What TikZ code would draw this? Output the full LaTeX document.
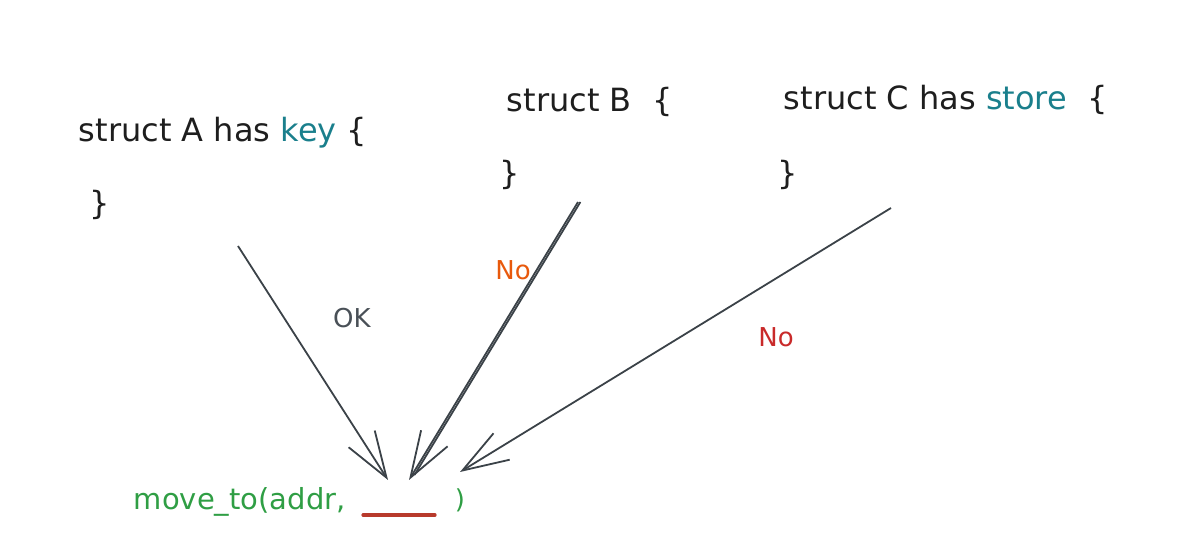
\documentclass[tikz,border=0pt]{standalone}
\usepackage{fontspec}
\setmainfont{DejaVu Sans}
\usepackage{tikz}
\usetikzlibrary{arrows.meta,calc}

\definecolor{inkblack}{HTML}{1E1E1E}
\definecolor{inkteal}{HTML}{1A7F8C}
\definecolor{inkgrey}{HTML}{495057}
\definecolor{inkorange}{HTML}{E8590C}
\definecolor{inkred}{HTML}{C92A2A}
\definecolor{inkgreen}{HTML}{2F9E44}
\definecolor{inkline}{HTML}{3B4248}
\definecolor{inkblank}{HTML}{B83A2C}

\tikzset{
  code/.style={inner sep=0.75pt, font=\fontsize{16}{19}\selectfont, text=inkblack},
  label/.style={inner sep=0.75pt, font=\fontsize{13}{16}\selectfont},
  link/.style={draw=inkline, line width=0.9pt},
  sketcharrow/.style={link, -{Straight Barb[length=23pt,width=15.5pt,line width=0.9pt]}}
}

\begin{document}
\begin{tikzpicture}[x=0.5pt,y=0.5pt,yscale=-1,xscale=1]
        \path[use as bounding box] (0,0) rectangle (1200,560);
        % Text Node
        \node (structa) [code, anchor=base west] at (77,142) {struct A has \textcolor{inkteal}{key} \{};
        \node (closea) [code] at (100,205) {\}};
        \node (structb) [code, anchor=base west] at (505,112) {struct B\ \ \{};
        \node (closeb) [code] at (510,175) {\}};
        \node (structc) [code, anchor=base west] at (782,110) {struct C has \textcolor{inkteal}{store}\ \ \{};
        \node (closec) [code] at (788,175) {\}};
        % Text Node
        \node (call) [label, font=\fontsize{14.5}{17}\selectfont, text=inkgreen, anchor=base west] at (132,510) {move\_to(addr,};
        \node (paren) [label, text=inkgreen] at (460,500) {)};
        \coordinate (blankl) at (363,515);
        \coordinate (blankr) at (435,515);
        \draw [inkblank, line width=1.6pt, line cap=round] (blankl) -- (blankr);
        % Straight Lines
        \coordinate (atail) at (238,246);
        \coordinate (ahead) at (388,480);
        \draw [sketcharrow] (atail) -- (ahead);
        \coordinate (btail) at (578,202);
        \coordinate (bhead) at (409,480);
        \draw [sketcharrow] (btail) -- (bhead);
        \draw [link, shorten >=3pt] ([xshift=1.2pt]btail) -- ([xshift=1.2pt]bhead);
        \coordinate (ctail) at (891,208);
        \coordinate (chead) at (460,472);
        \draw [sketcharrow] (ctail) -- (chead);
        % Text Node
        \node (ok) [label, text=inkgrey] at (352,318) {OK};
        \node (nob) [label, text=inkorange] at (513,270) {No};
        \node (noc) [label, text=inkred] at (776,337) {No};
\end{tikzpicture}
\end{document}
